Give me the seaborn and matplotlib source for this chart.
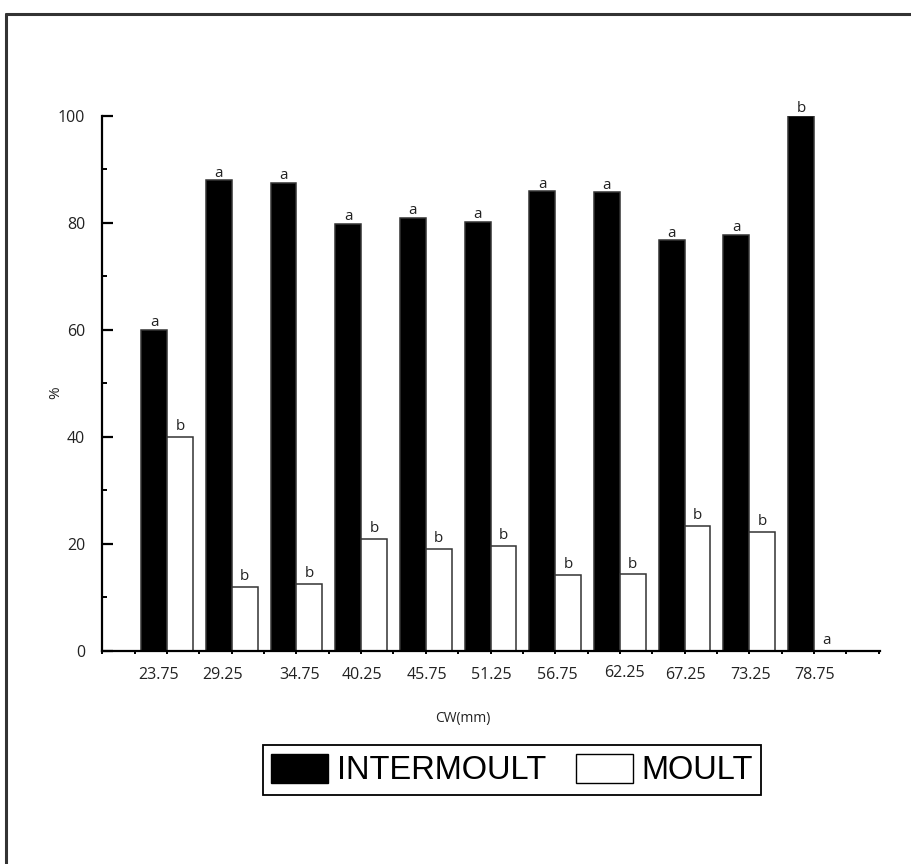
import matplotlib
matplotlib.use("Agg")
import matplotlib.pyplot as plt
from matplotlib import font_manager
from matplotlib.patches import Patch
from matplotlib.lines import Line2D
from matplotlib.ticker import MultipleLocator
from matplotlib.transforms import ScaledTranslation
import pandas as pd
import seaborn as sns

# Carapace-width classes (mm) and share of crabs in each moult stage (%)
cw_classes = ["23.75", "29.25", "34.75", "40.25", "45.75", "51.25",
              "56.75", "62.25", "67.25", "73.25", "78.75"]
intermoult = [60.0, 87.9, 87.5, 79.8, 80.9, 80.2, 85.9, 85.7, 76.7, 77.8, 100.0]
moult = [40.0, 12.0, 12.5, 20.9, 19.1, 19.7, 14.2, 14.3, 23.4, 22.3, 0.0]
intermoult_letters = ["a", "a", "a", "a", "a", "a", "a", "a", "a", "a", "b"]
moult_letters = ["b", "b", "b", "b", "b", "b", "b", "b", "b", "b", "a"]
stages = ["INTERMOULT", "MOULT"]
y_ticks = [0, 20, 40, 60, 80, 100]

sns.set_theme(style="white")
plt.rcParams["font.family"] = ["Open Sans", "DejaVu Sans"]

available = {f.name for f in font_manager.fontManager.ttflist}
narrow = "Liberation Sans Narrow" in available
legend_font = "Liberation Sans Narrow" if narrow else "Liberation Sans"
legend_size = 28 if narrow else 23.5

df = pd.DataFrame({
    "CW": cw_classes * 2,
    "pct": intermoult + moult,
    "stage": [stages[0]] * len(cw_classes) + [stages[1]] * len(cw_classes),
})

W, H = 911, 864
fig = plt.figure(figsize=(W / 100, H / 100), dpi=100)
ax = fig.add_axes([101.7 / W, 1 - 651 / H, (880 - 101.7) / W, (651 - 115.7) / H])

sns.barplot(data=df, x="CW", y="pct", hue="stage", order=cw_classes,
            hue_order=stages, palette={stages[0]: "black", stages[1]: "white"},
            saturation=1, width=0.8, edgecolor="#333333", linewidth=1.1,
            legend=False, ax=ax)

ax.set_xlim(-1.01, 11.02)
ax.set_ylim(0, 100)

# axes styling
for side in ("top", "right"):
    ax.spines[side].set_visible(False)
for side in ("left", "bottom"):
    ax.spines[side].set_color("black")
    ax.spines[side].set_linewidth(1.6)

ax.set_yticks(y_ticks)
ax.yaxis.set_minor_locator(MultipleLocator(10))
ax.tick_params(axis="y", which="major", direction="in", length=8, width=1.6,
               color="black", pad=12, labelsize=11.5, labelcolor="#222222",
               left=True)
ax.tick_params(axis="y", which="minor", direction="in", length=3.6, width=1.4,
               color="black", left=True)

ax.xaxis.set_minor_locator(MultipleLocator(0.5))
ax.tick_params(axis="x", which="both", direction="out", length=2.5, width=1.4,
               color="black", bottom=True)
ax.tick_params(axis="x", which="major", pad=9, labelsize=11.5,
               labelcolor="#222222")

# small per-label shifts of the class labels (pixels)
nudge_x = [-8, -9, 3, 1, 1, 1, 2, 5, 1, 1, 1]
nudge_y = [0, 0, 0, 0, 0, 0, 0, 2, 0, 0, 0]
for lab, dx, dy in zip(ax.get_xticklabels(), nudge_x, nudge_y):
    lab.set_transform(lab.get_transform() +
                      ScaledTranslation(dx / 100, dy / 100, fig.dpi_scale_trans))

ax.set_xlabel("CW(mm)", fontsize=10, color="#222222")
ax.xaxis.set_label_coords(0.464, -0.112)
ax.set_ylabel("%", fontsize=11, color="#222222")
ax.yaxis.set_label_coords(-0.05, 0.482)
ax.grid(False)

# significance letters above each bar
for container, letters, gap in zip(ax.containers,
                                   [intermoult_letters, moult_letters],
                                   [2.6, 4.8]):
    for bar, letter in zip(container, letters):
        ax.annotate(letter, (bar.get_x() + bar.get_width() / 2, bar.get_height()),
                    xytext=(0, gap), textcoords="offset points",
                    ha="center", va="baseline", fontsize=11, color="#222222")

# legend
handles = [Patch(facecolor="black", edgecolor="black", linewidth=1),
           Patch(facecolor="white", edgecolor="black", linewidth=1)]
leg = fig.legend(handles, stages, loc="center",
                 bbox_to_anchor=(512 / W, 1 - 770 / H), ncol=2,
                 frameon=True, fancybox=False, framealpha=1, edgecolor="black",
                 prop={"family": legend_font, "size": legend_size},
                 labelcolor="black",
                 handlelength=1.75, handleheight=1.0, handletextpad=0.27,
                 columnspacing=0.9, borderpad=0.26, borderaxespad=0)
leg.get_frame().set_linewidth(1.3)

# outer frame (top and left edges)
fig.add_artist(Line2D([5.5 / W, 5.5 / W], [0, 1 - 13.5 / H],
                      transform=fig.transFigure, color="#333333", lw=2.2))
fig.add_artist(Line2D([5.5 / W, 1], [1 - 13.5 / H, 1 - 13.5 / H],
                      transform=fig.transFigure, color="#333333", lw=2.2))

fig.savefig("out.png", dpi=100, facecolor="white")
